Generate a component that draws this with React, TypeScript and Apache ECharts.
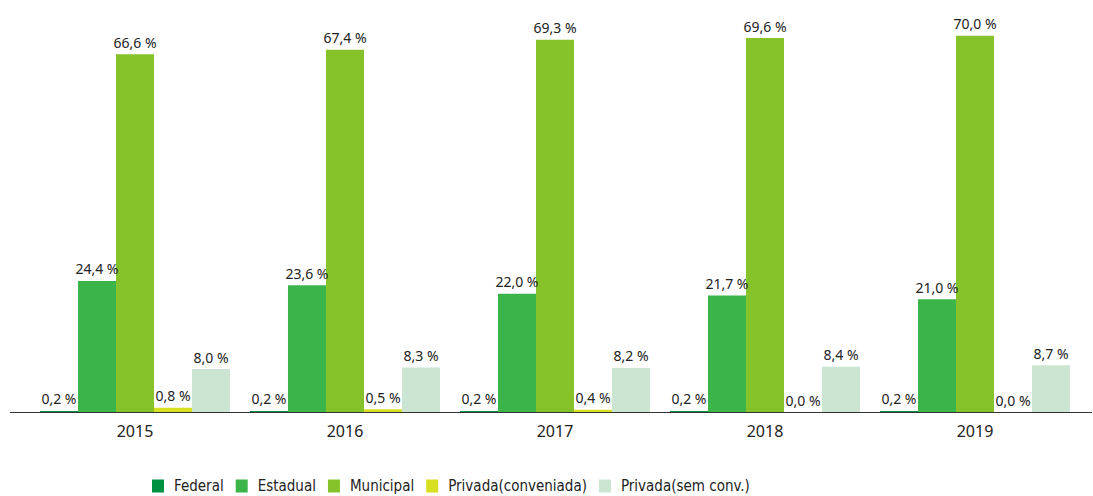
import React, { useEffect, useRef } from "react";
import * as echarts from "echarts";

const years = ["2015", "2016", "2017", "2018", "2019"];
const federal = [0.2, 0.2, 0.2, 0.2, 0.2];
const estadual = [24.4, 23.6, 22.0, 21.7, 21.0];
const municipal = [66.6, 67.4, 69.3, 69.6, 70.0];
const privadaConv = [0.8, 0.5, 0.4, 0.0, 0.0];
const privadaSem = [8.0, 8.3, 8.2, 8.4, 8.7];

const seriesDefs = [
  { name: "Federal", data: federal, color: "#009140" },
  { name: "Estadual", data: estadual, color: "#3bb54a" },
  { name: "Municipal", data: municipal, color: "#86c229" },
  { name: "Privada(conveniada)", data: privadaConv, color: "#d7df21" },
  { name: "Privada(sem conv.)", data: privadaSem, color: "#cce4d2" },
];

const FONT = "'Noto Sans', 'Open Sans', sans-serif";
const NARROW = "'Liberation Sans Narrow', 'DejaVu Sans Condensed', 'Noto Sans', sans-serif";

export default function App() {
  const ref = useRef<HTMLDivElement>(null);
  useEffect(() => {
    if (!ref.current) return;
    const chart = echarts.init(ref.current, undefined, { renderer: "svg" });
    chart.setOption({
      animation: false,
      backgroundColor: "#ffffff",
      textStyle: { fontFamily: FONT },
      grid: { left: 30, right: 13, top: 9, bottom: 84, containLabel: false },
      legend: {
        top: 478,
        left: 152,
        padding: 0,
        itemWidth: 12,
        itemHeight: 13,
        itemGap: 12,
        icon: "rect",
        textStyle: {
          fontSize: 15,
          lineHeight: 16,
          color: "#222",
          fontFamily: NARROW,
          padding: [0, 0, 0, 5],
        },
        data: seriesDefs.map((s) => s.name),
      },
      xAxis: {
        type: "category",
        data: years,
        axisLine: { show: false },
        axisTick: { show: false },
        axisLabel: { fontSize: 16, color: "#222", margin: 11, fontFamily: FONT },
      },
      yAxis: {
        type: "value",
        min: 0,
        max: 75,
        show: false,
        splitLine: { show: false },
      },
      graphic: [
        {
          type: "line",
          shape: { x1: 10, y1: 412.5, x2: 1092, y2: 412.5 },
          style: { stroke: "#333", lineWidth: 1 },
          z: 10,
        },
      ],
      series: seriesDefs.map((s) => ({
        name: s.name,
        type: "bar",
        data: s.data,
        barGap: "0%",
        barCategoryGap: "9.5%",
        itemStyle: { color: s.color },
        label: {
          show: true,
          position: "top",
          distance: 5,
          fontSize: 14,
          color: "#222",
          fontFamily: FONT,
          formatter: (p: any) => p.value.toFixed(1).replace(".", ",") + " %",
        },
      })),
    });
    return () => chart.dispose();
  }, []);
  return (
    <div
      ref={ref}
      style={{ position: "fixed", left: 0, top: 0, width: 1093, height: 496 }}
    />
  );
}
